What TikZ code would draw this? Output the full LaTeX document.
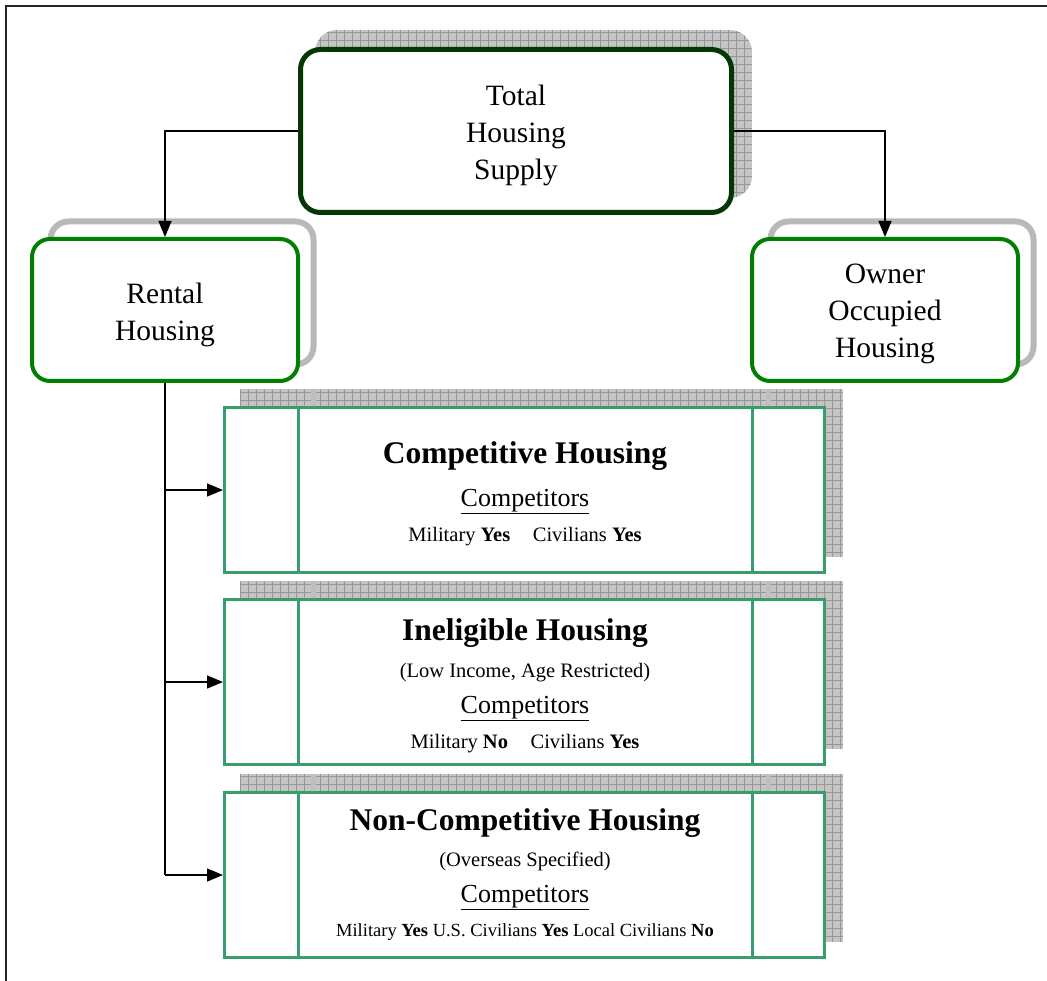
\documentclass[tikz,border=0pt]{standalone}
\usepackage{fontspec}
\setmainfont{Liberation Serif}
\usetikzlibrary{arrows.meta,positioning}
\definecolor{deepgreen}{RGB}{5,55,5}
\definecolor{boxgreen}{RGB}{0,128,0}
\definecolor{seagreen}{RGB}{55,158,108}
\definecolor{shadefill}{RGB}{196,196,196}
\definecolor{shadegrid}{RGB}{150,150,150}
\definecolor{shadeline}{RGB}{185,185,185}
\tikzset{
  toproot/.style={draw=deepgreen, line width=5pt, rounded corners=20pt, fill=white,
    minimum width=431pt, minimum height=163pt, inner sep=0pt},
  branch/.style={draw=boxgreen, line width=4pt, rounded corners=18pt, fill=white,
    minimum width=266pt, minimum height=142pt, inner sep=0pt},
  ringshade/.style={draw=shadeline, line width=6pt, rounded corners=18pt,
    minimum width=263pt, minimum height=143pt, inner sep=0pt},
  category/.style={draw=seagreen, line width=3pt, fill=white,
    minimum width=600pt, minimum height=165pt, inner sep=0pt},
  bigtext/.style={font=\fontsize{29.5}{37}\selectfont, align=center},
  headtext/.style={font=\fontsize{31.5}{34}\selectfont\bfseries, anchor=base},
  subtext/.style={font=\fontsize{20.5}{23}\selectfont, anchor=base},
  comptext/.style={font=\fontsize{26}{29}\selectfont, anchor=base},
  link/.style={line width=1.4pt, -{Triangle[length=16pt,width=13pt]}},
  trunk/.style={line width=1.4pt},
}
% gridded grey fill used for the drop shadows
\newcommand{\gridshade}[4]{%
  \begin{scope}
    \clip[rounded corners=#4] (#1) rectangle (#2);
    \fill[shadefill] (#1) rectangle (#2);
    \draw[shadegrid, line width=0.5pt, step=#3] (#1) grid (#2);
  \end{scope}}
\begin{document}
\begin{tikzpicture}[x=1pt,y=-1pt]
\useasboundingbox (0,0) rectangle (1047,981);
% outer frame (only top and left sides show)
\draw[line width=2.2pt, black!85] (6,990) -- (6,6) -- (1060,6);

% shadows of the upper boxes
\gridshade{315,30}{752,198}{8pt}{22pt}
\node[ringshade] (rentshade) at (182,293) {};
\node[ringshade] (ownshade) at (902,293) {};

% shadows of the category boxes
\foreach \yc in {490,682,875}{
  \gridshade{240,\yc-101}{843,\yc+67}{8pt}{0pt}
  \fill[black!25] (311,\yc-101) rectangle (316,\yc+67);
  \fill[black!25] (766,\yc-101) rectangle (771,\yc+67);
}

% top level
\node[toproot] (total) at (516,131) {};
\node[bigtext] (totaltxt) at ([yshift=-4pt]total.center) {Total\\Housing\\Supply};

% second level
\node[branch] (rental) at (165,310) {};
\node[bigtext] (rentaltxt) at ([yshift=-5pt]rental.center) {Rental\\Housing};
\node[branch] (owner) at (885,310) {};
\node[bigtext] (ownertxt) at ([yshift=-4pt]owner.center) {Owner\\Occupied\\Housing};

% category boxes
\node[category] (comp) at (524.5,490) {};
\node[category] (inel) at (524.5,682) {};
\node[category] (noncomp) at (524.5,875) {};
\foreach \b in {comp,inel,noncomp}{
  \draw[seagreen, line width=3pt] ([xshift=75pt]\b.north west) -- ([xshift=75pt]\b.south west);
  \draw[seagreen, line width=3pt] ([xshift=-74pt]\b.north east) -- ([xshift=-74pt]\b.south east);
}

% texts of the category boxes
\node[headtext] (comph) at (525,463) {Competitive Housing};
\node[comptext] (compc) at (525,506) {\underline{Competitors}};
\node[subtext] (compl) at (525,541) {Military \textbf{Yes}\hspace{1.1em}Civilians \textbf{Yes}};

\node[headtext] (inelh) at (525,640) {Ineligible Housing};
\node[subtext] (inels) at (525,677) {(Low Income, Age Restricted)};
\node[comptext] (inelc) at (525,713) {\underline{Competitors}};
\node[subtext] (inell) at (525,748) {Military \textbf{No}\hspace{1.1em}Civilians \textbf{Yes}};

\node[headtext] (nonh) at (525,830) {Non-Competitive Housing};
\node[subtext] (nons) at (525,866) {(Overseas Specified)};
\node[comptext] (nonc) at (525,902) {\underline{Competitors}};
\node[subtext, font=\fontsize{18.5}{21}\selectfont] (nonl) at (525,936) {Military \textbf{Yes} U.S. Civilians \textbf{Yes} Local Civilians \textbf{No}};

% connectors
\coordinate (lt) at (rental.north |- total.west);
\coordinate (rt) at (owner.north |- total.east);
\draw[link] (total.west) -- (lt) -- (rental.north);
\draw[link] (total.east) -- (rt) -- (owner.north);
\coordinate (k1) at (rental.south |- comp.west);
\coordinate (k2) at (rental.south |- inel.west);
\coordinate (k3) at (rental.south |- noncomp.west);
\draw[trunk] (rental.south) -- (k3);
\draw[link] (k1) -- (comp.west);
\draw[link] (k2) -- (inel.west);
\draw[link] (k3) -- (noncomp.west);
\end{tikzpicture}
\end{document}
